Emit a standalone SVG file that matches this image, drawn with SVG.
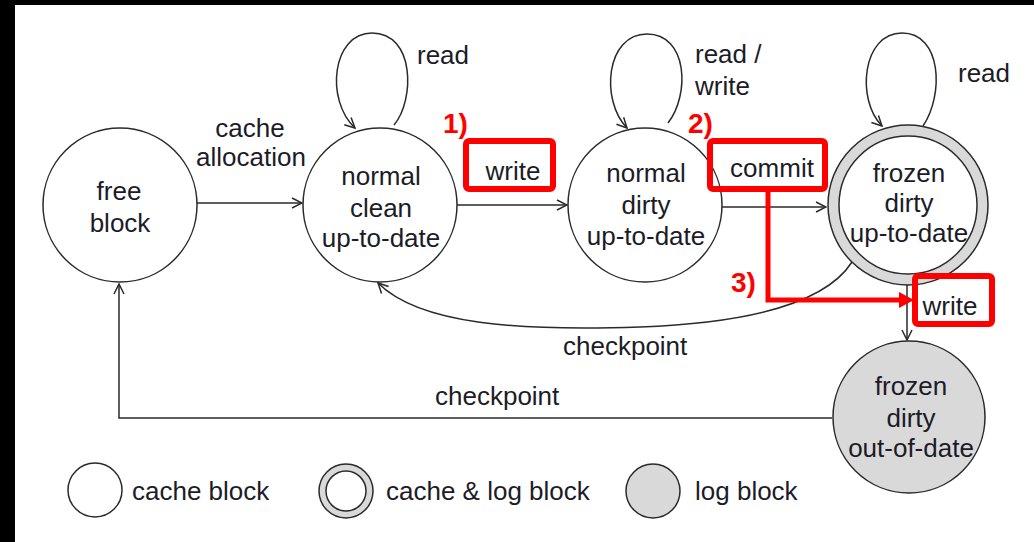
<svg xmlns="http://www.w3.org/2000/svg" width="1034" height="542" viewBox="0 0 1034 542">
  <style>
    .lbl { font-family: "Liberation Sans", Arial, sans-serif; font-size: 26px; fill: #1c1c28; }
    .mid { text-anchor: middle; }
    .node { stroke: #2a2a2a; stroke-width: 1.5; }
    .edge { fill: none; stroke: #2a2a2a; stroke-width: 1.5; }
    .mark { fill: none; stroke: #ff0000; stroke-width: 6; }
    .num { font-family: "Liberation Sans", Arial, sans-serif; font-size: 28px; font-weight: bold; fill: #ff0000; }
  </style>
  <defs>
    <marker id="open" viewBox="0 0 12 12" refX="11" refY="6" markerWidth="12" markerHeight="12" markerUnits="userSpaceOnUse" orient="auto">
      <path d="M1,1 L11,6 L1,11" fill="none" stroke="#2a2a2a" stroke-width="1.5"/>
    </marker>
  </defs>

  <!-- frame -->
  <rect width="1034" height="542" fill="#ffffff"/>
  <rect x="0" y="0" width="1034" height="5" fill="#000"/>
  <rect x="0" y="0" width="15" height="542" fill="#000"/>

  <!-- connectors -->
  <g id="connectors">
    <line class="edge" x1="197" y1="203" x2="302" y2="203" marker-end="url(#open)"/>
    <line class="edge" x1="457" y1="205" x2="567" y2="205" marker-end="url(#open)"/>
    <line class="edge" x1="722" y1="207" x2="826" y2="207" marker-end="url(#open)"/>
    <line class="edge" x1="907" y1="285" x2="907" y2="340" marker-end="url(#open)"/>
    <path class="edge" d="M394,125 C415,100 415,33 372,33 C332,33 325,100 355,128" marker-end="url(#open)"/>
    <path class="edge" d="M668,123 C690,95 688,34 647,34 C606,34 600,100 627,128" marker-end="url(#open)"/>
    <path class="edge" d="M923,126 C944,95 942,33 902,33 C862,33 856,100 882,126" marker-end="url(#open)"/>
    <path class="edge" d="M852,262 C820,312 720,324 640,327 C520,331 420,325 378,283" marker-end="url(#open)"/>
    <path class="edge" d="M832,418 H119 V284" marker-end="url(#open)"/>
    <text class="lbl mid" x="250" y="137">cache</text>
    <text class="lbl mid" x="251" y="166">allocation</text>
    <text class="lbl" x="417" y="64">read</text>
    <text class="lbl" x="695" y="63">read /</text>
    <text class="lbl" x="695" y="95">write</text>
    <text class="lbl" x="958" y="82">read</text>
    <text class="lbl mid" x="513" y="180">write</text>
    <text class="lbl mid" x="772" y="177">commit</text>
    <text class="lbl mid" x="950" y="315">write</text>
    <text class="lbl" x="563" y="355">checkpoint</text>
    <text class="lbl" x="435" y="405">checkpoint</text>
  </g>

  <!-- states -->
  <g id="free-block">
    <circle class="node" cx="120" cy="205" r="77" fill="#fff"/>
    <text class="lbl mid" x="119" y="200">free</text>
    <text class="lbl mid" x="120" y="232">block</text>
  </g>
  <g id="normal-clean">
    <circle class="node" cx="380" cy="205" r="77" fill="#fff"/>
    <text class="lbl mid" x="381" y="185">normal</text>
    <text class="lbl mid" x="381" y="217">clean</text>
    <text class="lbl mid" x="381" y="247">up-to-date</text>
  </g>
  <g id="normal-dirty">
    <circle class="node" cx="645" cy="205" r="77" fill="#fff"/>
    <text class="lbl mid" x="646" y="182">normal</text>
    <text class="lbl mid" x="646" y="214">dirty</text>
    <text class="lbl mid" x="646" y="245">up-to-date</text>
  </g>
  <g id="frozen-dirty-up-to-date">
    <circle class="node" cx="908" cy="205" r="80" fill="#d9d9d9"/>
    <circle class="node" cx="908" cy="205" r="69" fill="#fff"/>
    <text class="lbl mid" x="909" y="182">frozen</text>
    <text class="lbl mid" x="909" y="212">dirty</text>
    <text class="lbl mid" x="909" y="242">up-to-date</text>
  </g>
  <g id="frozen-dirty-out-of-date">
    <circle class="node" cx="909" cy="417" r="76" fill="#d9d9d9"/>
    <text class="lbl mid" x="911" y="395">frozen</text>
    <text class="lbl mid" x="911" y="427">dirty</text>
    <text class="lbl mid" x="911" y="457">out-of-date</text>
  </g>

  <!-- highlight marks -->
  <g id="highlights">
    <rect class="mark" x="466" y="141" width="87" height="48" rx="3"/>
    <rect class="mark" x="710" y="141" width="115" height="48" rx="3"/>
    <rect class="mark" x="915" y="276" width="77" height="48" rx="3"/>
    <path d="M768,192 V300 H901" fill="none" stroke="#ff0000" stroke-width="5"/>
    <polygon points="899,292 914,300 899,308" fill="#ff0000"/>
    <text class="num" x="443" y="133">1)</text>
    <text class="num" x="688" y="133">2)</text>
    <text class="num" x="731" y="292">3)</text>
  </g>

  <!-- legend -->
  <g id="legend">
    <circle class="node" cx="95" cy="490" r="27" fill="#fff"/>
    <text class="lbl" x="132" y="500">cache block</text>
    <circle class="node" cx="346" cy="491" r="27" fill="#d9d9d9"/>
    <circle class="node" cx="346" cy="491" r="20" fill="#fff"/>
    <text class="lbl" x="386" y="500">cache &amp; log block</text>
    <circle class="node" cx="653" cy="491" r="27" fill="#d9d9d9"/>
    <text class="lbl" x="695" y="500">log block</text>
  </g>
</svg>
